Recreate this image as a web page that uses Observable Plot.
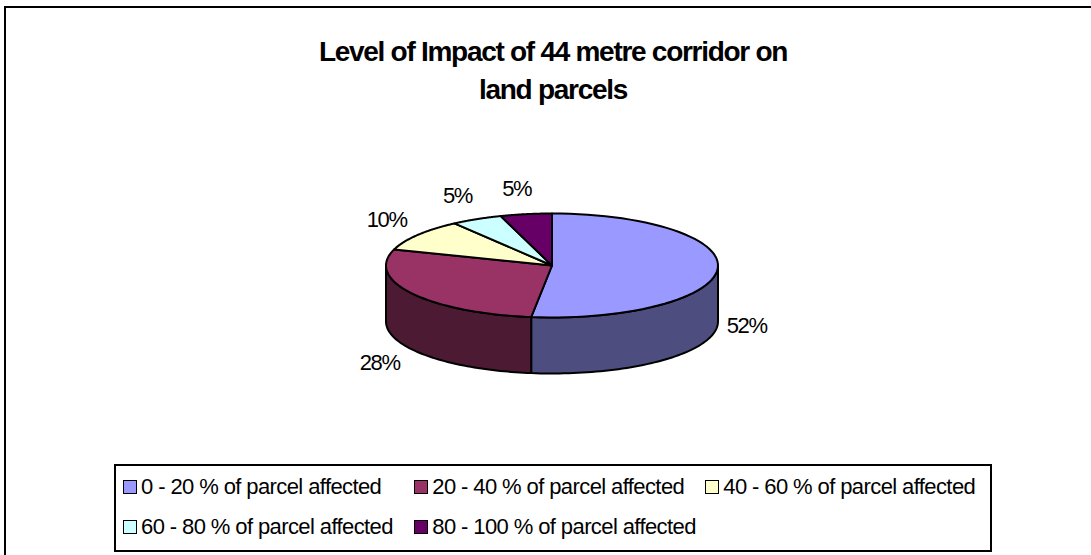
<!DOCTYPE html>
<html>
<head>
<meta charset="utf-8">
<script src="https://cdn.jsdelivr.net/npm/d3@7"></script>
<script src="https://cdn.jsdelivr.net/npm/@observablehq/plot@0.6"></script>
<style>
html,body{margin:0;padding:0;background:#fff;}
#chart{position:relative;width:1091px;height:555px;overflow:hidden;font-family:"Liberation Sans",Arial,sans-serif;color:#000;}
#frame{position:absolute;left:4px;top:6px;width:1200px;height:700px;border:2px solid #000;box-sizing:border-box;}
#title{position:absolute;left:203px;width:700px;top:33px;text-align:center;font-weight:bold;font-size:28px;line-height:38px;letter-spacing:-1.28px;}
#plot{position:absolute;left:0;top:170px;}
#legend{position:absolute;left:114px;top:464px;width:878px;height:88px;border:2px solid #000;box-sizing:border-box;font-size:22px;letter-spacing:-.6px;}
.item{position:absolute;white-space:nowrap;}
.sw{position:absolute;width:12px;height:12px;border:1.5px solid #000;}
</style>
</head>
<body>
<div id="chart">
  <div id="frame"></div>
  <div id="title"></div>
  <div id="plot"></div>
  <div id="legend"></div>
</div>
<script>
const titleLines = ["Level of Impact of 44 metre corridor on", "land parcels"];
const categories = ["0 - 20 % of parcel affected", "20 - 40 % of parcel affected", "40 - 60 % of parcel affected", "60 - 80 % of parcel affected", "80 - 100 % of parcel affected"];
const values = [52, 28, 10, 5, 5];
const colors = ["#9999ff", "#993366", "#ffffcc", "#ccffff", "#660066"];
const sideColors = ["#4d4d80", "#4d1a33", "#808066", "#668080", "#330033"];

const depth = 56 / 52;
const total = d3.sum(values);
const rad = d => d / total * 2 * Math.PI;
const P = (t, drop = 0) => ({x: Math.sin(t), y: Math.cos(t) - drop});

let cum = 0;
const slices = values.map((v, i) => {
  const a0 = rad(cum); cum += v; const a1 = rad(cum);
  return {i, v, a0, a1, mid: (a0 + a1) / 2};
});
const arc = (a0, a1, drop = 0) => d3.range(0, 61).map(k => P(a0 + (a1 - a0) * k / 60, drop));

const tops = slices.flatMap(s => [{x: 0, y: 0}, ...arc(s.a0, s.a1)].map(p => ({...p, s: s.i})));
const sides = slices.flatMap(s => {
  const a0 = Math.max(s.a0, Math.PI / 2), a1 = Math.min(s.a1, 3 * Math.PI / 2);
  if (a1 <= a0) return [];
  return [...arc(a0, a1), ...arc(a0, a1, depth).reverse()].map(p => ({...p, s: s.i}));
});
const labels = slices.map(s => {
  const c = Math.cos(s.mid);
  return {x: 1.2 * Math.sin(s.mid) - 0.025, y: 1.5 * c - (c < 0 ? depth : 0), text: s.v + "%"};
});

const fill = d => colors[d.s];
const plot = Plot.plot({
  width: 1091, height: 240,
  margin: 0,
  style: {fontFamily: "Liberation Sans", letterSpacing: "-1.4px", background: "transparent"},
  x: {axis: null, domain: [-1, 1], range: [385.5, 717.5]},
  y: {axis: null, domain: [-1, 1], range: [147, 43]},
  marks: [
    Plot.line(sides, {x: "x", y: "y", z: "s", curve: "linear-closed", fill: d => sideColors[d.s], stroke: "#000", strokeWidth: 2, strokeLinejoin: "round"}),
    Plot.line(tops, {x: "x", y: "y", z: "s", curve: "linear-closed", fill, stroke: "#000", strokeWidth: 2, strokeLinejoin: "round"}),
    Plot.text(labels, {x: "x", y: "y", text: "text", fontSize: 22, fill: "#000"})
  ]
});
document.getElementById("plot").appendChild(plot);

document.getElementById("title").innerHTML = titleLines.join("<br>");
const legend = document.getElementById("legend");
const cols = [{l: 0, i: 0}, {l: 291.3, i: 1}, {l: 582.3, i: 2}, {l: 0, i: 3}, {l: 291.3, i: 4}];
categories.forEach((c, i) => {
  const pos = cols[i], row = i < 3 ? 0 : 1;
  const sw = document.createElement("span");
  sw.className = "sw";
  sw.style.left = (6.5 + pos.l) + "px";
  sw.style.top = (14 + row * 40) + "px";
  sw.style.background = colors[i];
  const t = document.createElement("span");
  t.className = "item";
  t.textContent = c;
  t.style.left = (25 + pos.l) + "px";
  t.style.top = (8 + row * 40) + "px";
  legend.append(sw, t);
});
</script>
</body>
</html>
